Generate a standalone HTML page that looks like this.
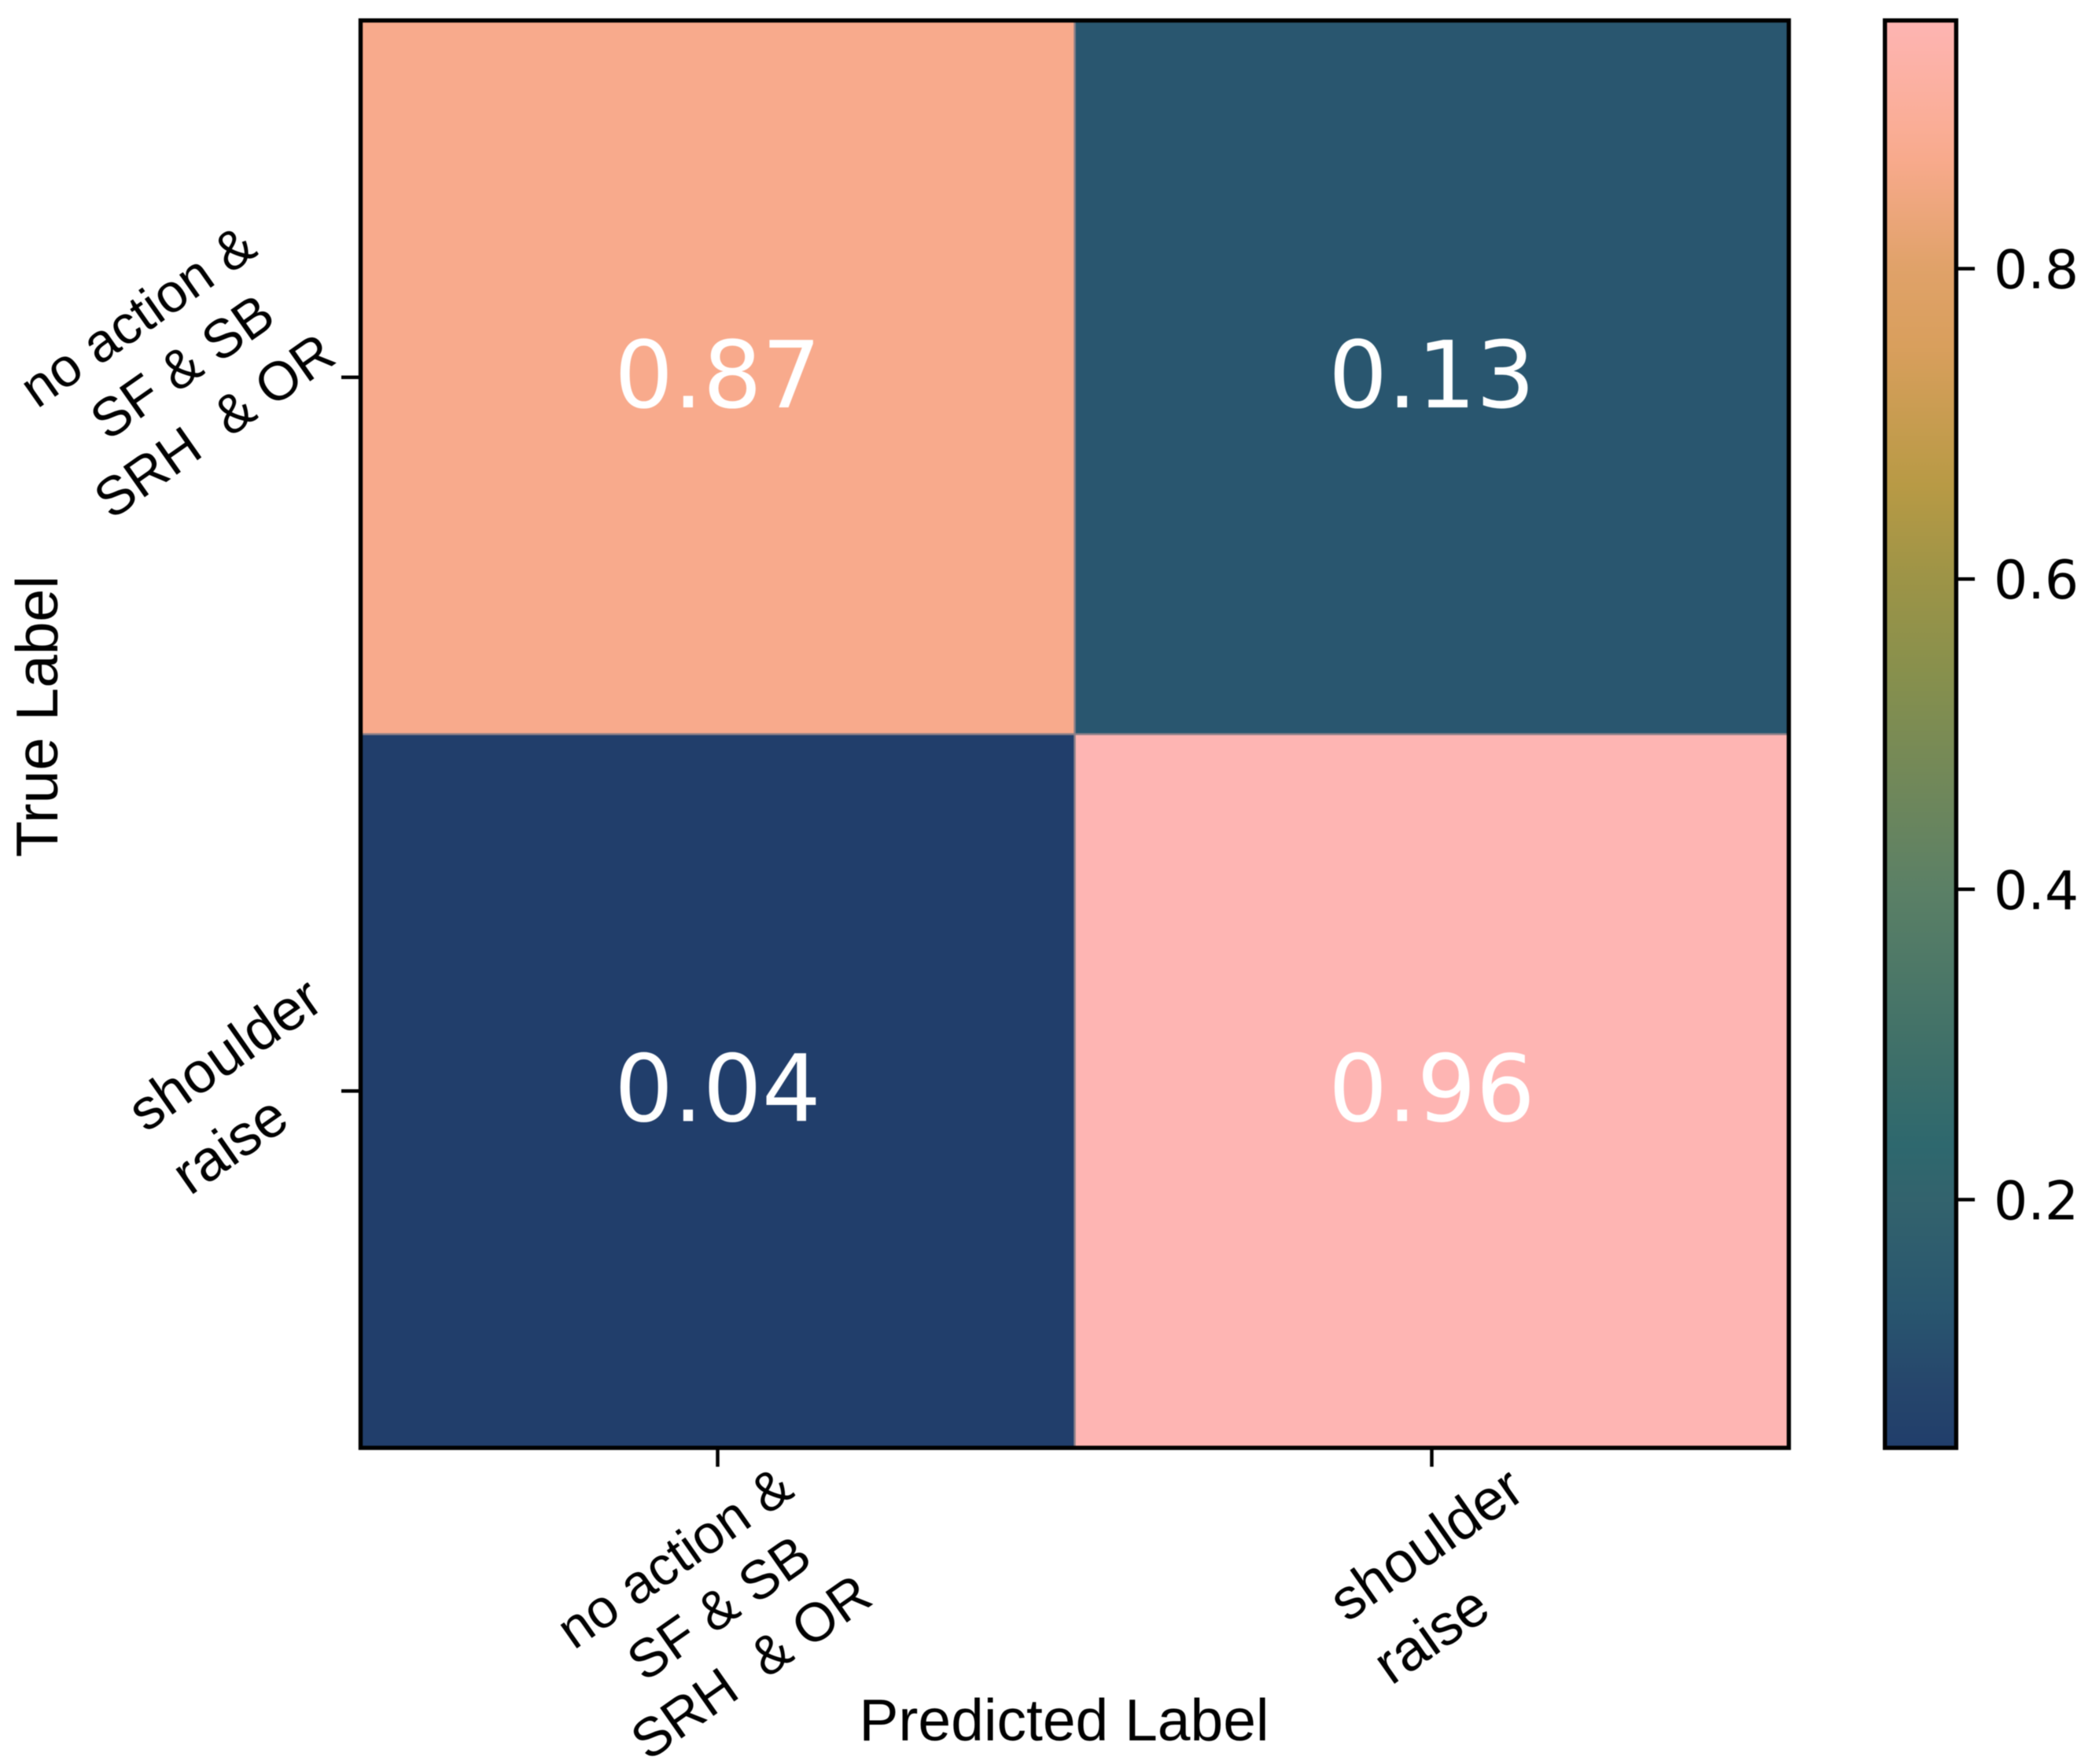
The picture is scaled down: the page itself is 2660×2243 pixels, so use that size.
<!DOCTYPE html>
<html lang="en">
<head>
<meta charset="utf-8">
<title>Confusion matrix</title>
<style>
html,body{margin:0;padding:0;background:#fff;}
svg{display:block;filter:blur(0.6px);}
.lab{font-family:"Liberation Sans",Arial,sans-serif;fill:#000;}
.num{font-family:"DejaVu Sans",sans-serif;}
text{white-space:pre;}
</style>
</head>
<body>
<svg id="chart" xmlns="http://www.w3.org/2000/svg" width="2660" height="2243" viewBox="0 0 2660 2243">
  <defs><linearGradient id="cbar-gradient" x1="0" y1="1" x2="0" y2="0"></linearGradient></defs>
  <rect x="0" y="0" width="2660" height="2243" fill="#ffffff"/>
  <g id="cells"></g>
  <g id="cell-values"></g>
  <rect x="458.5" y="26" width="1816" height="1815" fill="none" stroke="#000" stroke-width="5.4"/>
  <g id="x-axis"></g>
  <g id="y-axis"></g>
  <text class="lab" x="1353" y="2213" font-size="75" text-anchor="middle">Predicted Label</text>
  <text class="lab" transform="translate(73,911) rotate(-90)" font-size="75.5" text-anchor="middle">True Label</text>
  <rect id="cbar-fill" x="2396.7" y="26" width="90.6" height="1815" fill="url(#cbar-gradient)"/>
  <rect x="2396.7" y="26" width="90.6" height="1815" fill="none" stroke="#000" stroke-width="5.4"/>
  <g id="cbar-axis"></g>
</svg>
<script>
const categories = [["no action &", " SF & SB", "SRH  & OR"], ["shoulder", "raise      "]];
const matrixValues = [[0.87, 0.13], [0.04, 0.96]];
const colorbarTicks = [0.2, 0.4, 0.6, 0.8];
const colormapValues = [0.04, 0.08, 0.13, 0.2, 0.235, 0.295, 0.4, 0.538, 0.6, 0.66, 0.75, 0.8, 0.87, 0.889, 0.96];
const colormapColors = ["#213e6b", "#26466c", "#29566f", "#33636d", "#2e686e", "#3f7069", "#5b8066", "#87904d", "#9d9447", "#b89a45", "#d99f5d", "#e0a269", "#f8aa8c", "#faad95", "#feb5b3"];
const vMin = 0.04;
const vMax = 0.96;

const NS = "http://www.w3.org/2000/svg";
const plotLeft = 458.5, plotTop = 26, plotWidth = 1816, plotHeight = 1815;
const cbarRight = 2490, cbarTop = 26, cbarHeight = 1815;
const labelAngle = -35;

function xScale(i) { return plotLeft + plotWidth * (i + 0.5) / categories.length; }
function yScale(i) { return plotTop + plotHeight * (i + 0.5) / categories.length; }
function cbarScale(v) { return cbarTop + cbarHeight * (vMax - v) / (vMax - vMin); }
function hexToRgb(h) { return [1, 3, 5].map(function (p) { return parseInt(h.substr(p, 2), 16); }); }
function colorFor(v) {
  let i = 0;
  while (i < colormapValues.length - 2 && v > colormapValues[i + 1]) i++;
  const t = Math.max(0, Math.min(1, (v - colormapValues[i]) / (colormapValues[i + 1] - colormapValues[i])));
  const a = hexToRgb(colormapColors[i]), b = hexToRgb(colormapColors[i + 1]);
  return "rgb(" + a.map(function (c, k) { return Math.round(c + (b[k] - c) * t); }).join(",") + ")";
}
function make(tag, parent, attrs, text) {
  const el = document.createElementNS(NS, tag);
  for (const k in attrs) el.setAttribute(k, attrs[k]);
  if (text !== undefined) el.textContent = text;
  parent.appendChild(el);
  return el;
}
function multiLineLabel(parent, lines, cx, cy) {
  const size = lines.length === 3 ? 69 : 73;
  const spacing = lines.length === 3 ? 85 : 98;
  const g = make("g", parent, { transform: "translate(" + cx + "," + cy + ") rotate(" + labelAngle + ")" });
  lines.forEach(function (line, k) {
    const t = make("text", g, {
      "class": "lab", x: 0, y: (k - (lines.length - 1) / 2) * spacing + 0.36 * size,
      "font-size": size, "text-anchor": "middle"
    }, line);
    
    
  });
  return g;
}

const cellsG = document.getElementById("cells");
const valuesG = document.getElementById("cell-values");
const cellW = plotWidth / categories.length;
const cellH = plotHeight / categories.length;
matrixValues.forEach(function (row, r) {
  row.forEach(function (v, c) {
    const rect = make("rect", cellsG, {
      x: xScale(c) - cellW / 2, y: yScale(r) - cellH / 2,
      width: cellW, height: cellH, fill: colorFor(v)
    });
    
    
    const label = make("text", valuesG, {
      "class": "num", x: xScale(c), y: yScale(r) + 38, "font-size": 118,
      "text-anchor": "middle", fill: "#ffffff"
    }, v.toFixed(2));
    
    
  });
});
const seamV = make("line", cellsG, { x1: plotLeft + cellW, x2: plotLeft + cellW, y1: plotTop, y2: plotTop + plotHeight, stroke: "#8c8088", "stroke-width": 2.5 });


const seamH = make("line", cellsG, { x1: plotLeft, x2: plotLeft + plotWidth, y1: plotTop + cellH, y2: plotTop + cellH, stroke: "#8c8088", "stroke-width": 2.5 });



const xAxisG = document.getElementById("x-axis");
const yAxisG = document.getElementById("y-axis");
categories.forEach(function (lines, i) {
  const three = lines.length === 3;
  const xt = make("line", xAxisG, { x1: xScale(i), x2: xScale(i), y1: 1841, y2: 1865, stroke: "#000", "stroke-width": 4.5 });
  
  
  const xg = multiLineLabel(xAxisG, lines, xScale(i) + (three ? -7 : 20), 1841 + (three ? 208 : 161));
  
  

  const yt = make("line", yAxisG, { x1: 434, x2: 458.5, y1: yScale(i), y2: yScale(i), stroke: "#000", "stroke-width": 4.5 });
  
  
  const yg = multiLineLabel(yAxisG, lines, three ? 223 : 313, yScale(i) + (three ? -9 : -8));
  
  
});

const gradient = document.getElementById("cbar-gradient");
colormapValues.forEach(function (v, i) {
  const stop = make("stop", gradient, { offset: (v - vMin) / (vMax - vMin), "stop-color": colormapColors[i] });
  
  
});

const cbarAxisG = document.getElementById("cbar-axis");
colorbarTicks.forEach(function (v) {
  const y = cbarScale(v);
  const tick = make("line", cbarAxisG, { x1: cbarRight - 2, x2: cbarRight + 21, y1: y, y2: y, stroke: "#000", "stroke-width": 4.5 });
  
  
  const label = make("text", cbarAxisG, { "class": "num", x: 2535, y: y + 25, "font-size": 68, fill: "#000" }, v.toFixed(1));
  
  
});
</script>
</body>
</html>
